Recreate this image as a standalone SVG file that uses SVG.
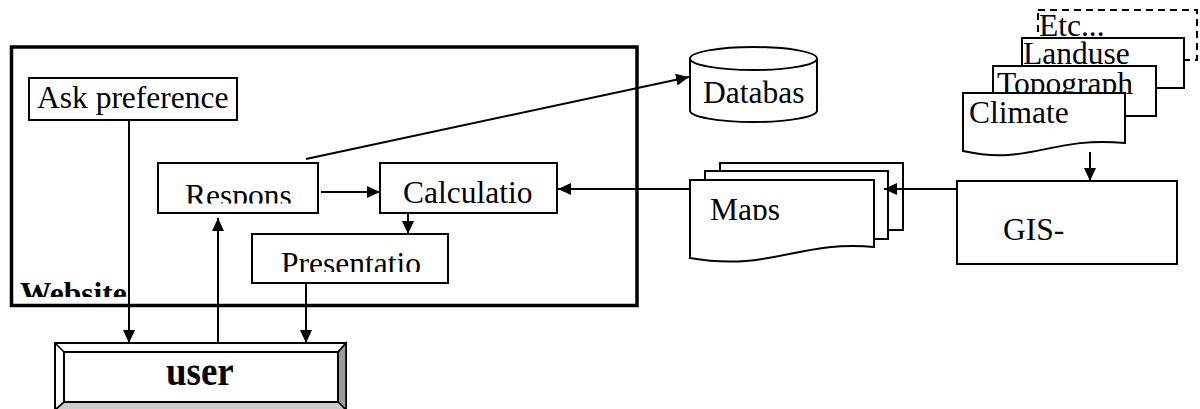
<svg xmlns="http://www.w3.org/2000/svg" width="1200" height="409" viewBox="0 0 1200 409">
<style>
.box{fill:#fff;stroke:#000;stroke-width:2}
.t{font-family:"Liberation Serif","Times New Roman",serif;font-size:31.5px;fill:#000}
.b{font-weight:bold}
.ln{fill:none;stroke:#000;stroke-width:2}
</style>
<defs>
<marker id="ah" markerUnits="userSpaceOnUse" markerWidth="14" markerHeight="12" refX="13" refY="6" orient="auto">
<path d="M0,0 L13,6 L0,12 Z" fill="#000"/>
</marker>
<clipPath id="cResp"><rect x="158" y="163" width="160" height="40.5"/></clipPath>
<clipPath id="cPres"><rect x="252" y="234" width="196" height="38"/></clipPath>
<clipPath id="cWeb"><rect x="12" y="47" width="624" height="250"/></clipPath>
<clipPath id="cMaps"><rect x="690" y="180" width="184" height="40"/></clipPath>
</defs>

<g id="website">
<rect x="11.5" y="47" width="625.5" height="258.5" fill="#fff" stroke="#000" stroke-width="3.5"/>
<text class="t b" x="20" y="304" clip-path="url(#cWeb)">Website</text>
</g>

<g id="databas">
<path class="box" d="M690,58.5 V110.5 A63.5,11.5 0 0 0 817,110.5 V58.5 A63.5,11.5 0 0 0 690,58.5 Z"/>
<path class="ln" d="M690,58.5 A63.5,11.5 0 0 0 817,58.5"/>
<text class="t" x="703" y="103">Databas</text>
</g>

<g id="etc">
<rect x="1038" y="10" width="159" height="50" fill="#fff" stroke="#000" stroke-width="2" stroke-dasharray="7,5"/>
<text class="t" x="1039" y="36">Etc...</text>
</g>
<g id="landuse">
<rect class="box" x="1022" y="38" width="162" height="50"/>
<text class="t" x="1023" y="64">Landuse</text>
</g>
<g id="topograph">
<rect class="box" x="993" y="66" width="163" height="50"/>
<text class="t" x="997" y="94">Topograph</text>
</g>
<g id="climate">
<path class="box" d="M963,93 H1125 V143 C1050,136 1030,166 963,151 Z"/>
<text class="t" x="969" y="123">Climate</text>
</g>

<g id="gis">
<rect class="box" x="957" y="181" width="220" height="83"/>
<text class="t" x="1003" y="240">GIS-</text>
</g>

<g id="maps">
<rect class="box" x="720" y="163" width="183" height="67"/>
<rect class="box" x="705" y="171" width="183" height="68"/>
<path class="box" d="M690,180 H874 V247 C800,240 770,272 690,258 Z"/>
<text class="t" x="710" y="220" clip-path="url(#cMaps)">Maps</text>
</g>

<g id="ask">
<rect class="box" x="29" y="78" width="208" height="42"/>
<text class="t" x="37" y="108">Ask preference</text>
</g>
<g id="respons">
<rect class="box" x="158" y="163" width="160" height="50"/>
<text class="t" x="185" y="206" clip-path="url(#cResp)">Respons</text>
</g>
<g id="calculatio">
<rect class="box" x="380" y="163" width="177" height="50"/>
<text class="t" x="403" y="203">Calculatio</text>
</g>
<g id="presentatio">
<rect class="box" x="252" y="234" width="196" height="49"/>
<text class="t" x="281" y="274" clip-path="url(#cPres)">Presentatio</text>
</g>

<g id="user">
<rect x="55" y="343" width="291" height="67" fill="#fff" stroke="#000" stroke-width="2"/>
<path d="M338,352 L346,343 V410 L338,402 Z" fill="#999" stroke="#000" stroke-width="1.5"/>
<path d="M64,402 H338 L346,410 H55 Z" fill="#ccc" stroke="#000" stroke-width="1.5"/>
<path d="M55,343 L64,352 M346,343 L338,352 M55,410 L64,402" stroke="#000" stroke-width="1.5"/>
<rect x="64" y="352" width="274" height="50" fill="#fff" stroke="#000" stroke-width="2"/>
<text class="t b" x="166" y="385" transform="translate(0,385) scale(1,1.15) translate(0,-385)" style="font-size:37px">user</text>
</g>

<g id="connectors">
<line class="ln" x1="129" y1="120" x2="129" y2="343" marker-end="url(#ah)"/>
<line class="ln" x1="218" y1="343" x2="218" y2="218" marker-end="url(#ah)"/>
<line class="ln" x1="306" y1="283" x2="306" y2="343" marker-end="url(#ah)"/>
<line class="ln" x1="321" y1="192" x2="380" y2="192" marker-end="url(#ah)"/>
<line class="ln" x1="408" y1="213" x2="408" y2="234" marker-end="url(#ah)"/>
<line class="ln" x1="306" y1="159" x2="689" y2="77" marker-end="url(#ah)"/>
<line class="ln" x1="690" y1="189" x2="558" y2="189" marker-end="url(#ah)"/>
<line class="ln" x1="957" y1="189" x2="884" y2="189" marker-end="url(#ah)"/>
<line class="ln" x1="1090" y1="152" x2="1090" y2="181" marker-end="url(#ah)"/>
</g>
</svg>
